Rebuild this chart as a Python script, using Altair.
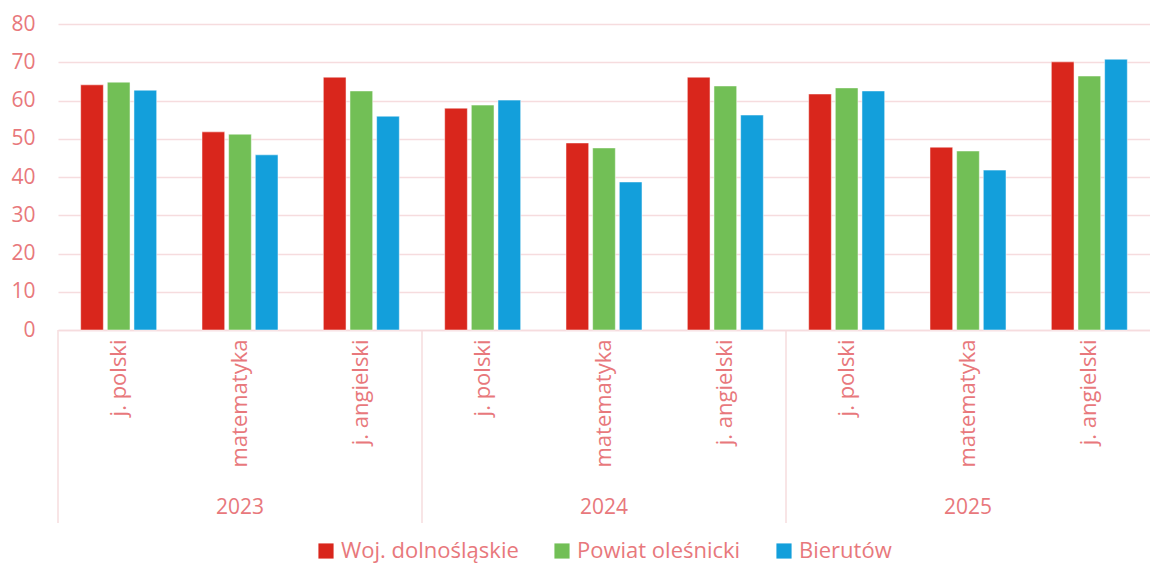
import altair as alt
import pandas as pd

years = ["2023", "2024", "2025"]
subjects = ["j. polski", "matematyka", "j. angielski"]
series = ["Woj. dolnośląskie", "Powiat oleśnicki", "Bierutów"]
colors = ["#D9261C", "#72BF56", "#139FDB"]

woj = [64.1, 51.8, 66.1, 58.0, 48.9, 66.1, 61.7, 47.8, 70.1]
powiat = [64.8, 51.2, 62.5, 58.8, 47.6, 63.8, 63.3, 46.8, 66.4]
bierutow = [62.7, 45.8, 55.9, 60.1, 38.7, 56.2, 62.5, 41.8, 70.8]

TXT = "#E8787C"
GRID = "#F6DCDE"
FONT = "Open Sans"

keys = [f"{y}|{s}" for y in years for s in subjects]
rows = []
for name, vals in zip(series, [woj, powiat, bierutow]):
    for k, v in zip(keys, vals):
        rows.append({"key": k, "series": name, "value": v})
df = pd.DataFrame(rows)

year_df = pd.DataFrame({"key": [f"{y}|{subjects[1]}" for y in years], "year": years})
sep_df = pd.DataFrame({"key": [f"{y}|{subjects[0]}" for y in years]})

xscale = alt.Scale(domain=keys, paddingInner=0, paddingOuter=0)

bars = alt.Chart(df).mark_bar(stroke="white", strokeOpacity=0.5, strokeWidth=1).encode(
    x=alt.X("key:N", scale=xscale, sort=keys, title=None,
            axis=alt.Axis(labelExpr="split(datum.label, '|')[1]", labelAngle=270,
                          labelAlign="right", labelBaseline="middle", labelPadding=9,
                          ticks=False, domain=True, domainColor=GRID, domainWidth=1.5,
                          labelColor=TXT, labelFontSize=22, labelFont=FONT,
                          labelLimit=300, grid=False)),
    xOffset=alt.XOffset("series:N", sort=series,
                        scale=alt.Scale(domain=series, paddingInner=0.148, paddingOuter=0.85)),
    y=alt.Y("value:Q", scale=alt.Scale(domain=[0, 80]), title=None,
            axis=alt.Axis(values=list(range(0, 81, 10)), grid=True, gridColor=GRID,
                          gridWidth=1.5, domain=False, ticks=False, labelColor=TXT,
                          labelFontSize=21, labelFont=FONT, labelPadding=23,
                          minExtent=50, maxExtent=50)),
    color=alt.Color("series:N", sort=series,
                    scale=alt.Scale(domain=series, range=colors),
                    legend=alt.Legend(orient="none", legendX=257, legendY=516,
                                      direction="horizontal", title=None,
                                      symbolType="square", symbolSize=230,
                                      symbolStrokeWidth=0, labelFontSize=22,
                                      labelColor=TXT, labelFont=FONT, labelOffset=4,
                                      labelLimit=400, columnPadding=32, padding=0)),
)

year_text = alt.Chart(year_df).mark_text(fontSize=21, font=FONT, color=TXT,
                                         baseline="middle").encode(
    x=alt.X("key:N", scale=xscale, sort=keys),
    y=alt.value(484),
    text="year:N",
)

seps = alt.Chart(sep_df).mark_rule(color=GRID, strokeWidth=1.5).encode(
    x=alt.X("key:N", scale=xscale, sort=keys, bandPosition=0),
    y=alt.value(306),
    y2=alt.value(499),
)

chart = alt.layer(bars, seps, year_text).properties(
    width=1092, height=306,
    padding={"left": 0, "top": 5, "right": 0, "bottom": 4},
).configure_view(stroke=None)

chart.save("out.html", embed_options={"renderer": "svg", "actions": False})
